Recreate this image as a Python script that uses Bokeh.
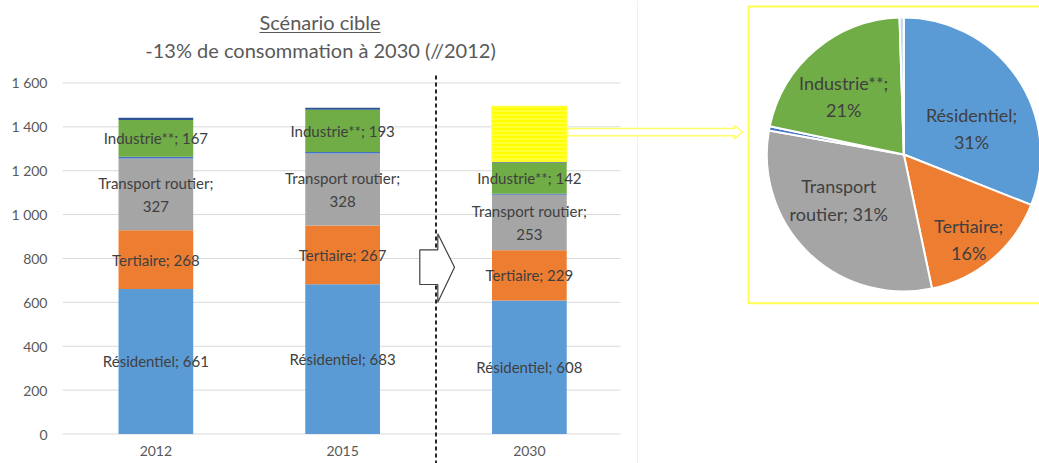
import textwrap
import numpy as np
from bokeh.plotting import figure
from bokeh.layouts import row
from bokeh.models import Range1d, LinearAxis, FixedTicker, ColumnDataSource
from bokeh.core.properties import value
from bokeh.embed import file_html
from bokeh.resources import INLINE

# ---------------- data ----------------
years = ["2012", "2015", "2030"]
sectors = ["Résidentiel", "Tertiaire", "Transport routier", "Agriculture", "Industrie**", "Autres"]
residentiel = [661, 683, 608]
tertiaire = [268, 267, 229]
transport = [327, 328, 253]
agriculture = [8, 7, 5]
industrie = [167, 193, 142]
autres = [10, 9, 6]
effort = [0, 0, 250]          # yellow hatched block on top of 2030
labelled = [True, True, True, False, True, False]

y_ticks = [0, 200, 400, 600, 800, 1000, 1200, 1400, 1600]
y_tick_labels = ["0", "200", "400", "600", "800", "1 000", "1 200", "1 400", "1 600"]

pie_shares = [31.0, 15.7, 31.1, 0.5, 21.2, 0.5]

title_line1 = "Scénario cible"
title_line2 = "-13% de consommation à 2030 (//2012)"

# ---------------- style ----------------
colors = ["#5B9BD5", "#ED7D31", "#A5A5A5", "#4472C4", "#70AD47", "#2F5597"]
pie_colors = ["#5B9BD5", "#ED7D31", "#A5A5A5", "#4472C4", "#70AD47", "#BDD7EE"]
FONT = "Lato"
W1, W2, H = 745, 294, 463
FRAME_L = 62
PX_PER_CAT = 186.75
Y0_PX = 433.5
PX_PER_UNIT = 0.2194

def X(px):
    return (px - FRAME_L) / PX_PER_CAT + 0.5

def Y(py):
    return (Y0_PX - py) / PX_PER_UNIT

x_pos = [1, 2, 3]
series = [residentiel, tertiaire, transport, agriculture, industrie, autres]

p = figure(width=W1, height=H,
           x_range=Range1d(0.5, X(W1)), y_range=Range1d(Y(H), Y(0)),
           output_backend="svg", toolbar_location=None,
           x_axis_type=None, y_axis_type=None,
           min_border_left=FRAME_L, min_border_right=0, min_border_top=0, min_border_bottom=0,
           outline_line_color=None, background_fill_color="white", border_fill_color="white")

# axes
yaxis = LinearAxis(ticker=FixedTicker(ticks=y_ticks),
                   major_label_overrides=dict(zip(y_ticks, y_tick_labels)),
                   axis_line_color=None, major_tick_line_color=None, minor_tick_line_color=None,
                   major_tick_in=0, major_tick_out=0,
                   major_label_text_font=FONT, major_label_text_font_size="14px",
                   major_label_text_color="#595959", major_label_standoff=15)
p.add_layout(yaxis, "left")

xaxis = LinearAxis(fixed_location=0, ticker=FixedTicker(ticks=x_pos),
                   major_label_overrides=dict(zip(x_pos, years)),
                   axis_line_color=None, major_tick_line_color=None, minor_tick_line_color=None,
                   major_tick_in=0, major_tick_out=0,
                   major_label_text_font=FONT, major_label_text_font_size="14px",
                   major_label_text_color="#595959", major_label_standoff=12)
p.add_layout(xaxis, "below")

# gridlines (stop at the chart's right edge)
p.segment(x0=[0.5] * len(y_ticks), x1=[X(620)] * len(y_ticks), y0=y_ticks, y1=y_ticks,
          line_color="#D9D9D9", line_width=1)

# faint chart-object border
p.segment(x0=[X(637)], x1=[X(637)], y0=[Y(0)], y1=[Y(H)], line_color="#F0F0F0", line_width=1)

# stacked bars
src = ColumnDataSource(dict(x=x_pos, **{s: v for s, v in zip(sectors, series)}))
p.vbar_stack(sectors, x="x", width=0.4, color=colors, source=src, line_color=None)

totals = np.sum(np.array(series), axis=0)
eff_idx = [i for i, e in enumerate(effort) if e > 0]
p.vbar(x=[x_pos[i] for i in eff_idx], bottom=[totals[i] for i in eff_idx],
       top=[totals[i] + effort[i] for i in eff_idx], width=0.4,
       fill_color="#FFFF00", line_color="#FFFF33", line_width=1.5,
       hatch_pattern="horizontal_line", hatch_color="white", hatch_alpha=0.45,
       hatch_scale=4, hatch_weight=1)

# data labels
lx, ly, lt = [], [], []
cum = np.zeros(3)
for name, vals, lab in zip(sectors, series, labelled):
    for i, v in enumerate(vals):
        if lab:
            lx.append(x_pos[i])
            ly.append(cum[i] + v / 2)
            lt.append("\n".join(textwrap.wrap(f"{name}; {v}", width=18)))
    cum += np.array(vals)
p.text(x=lx, y=ly, text=lt, text_align="center", text_baseline="middle",
       text_font=value(FONT), text_font_size="15px", text_color="#404040",
       text_line_height=1.3)

# dashed separator
p.segment(x0=[2.5], x1=[2.5], y0=[Y(75)], y1=[Y(H)], line_color="#262626",
          line_width=2, line_dash="4 3")

# white block arrow
ax = [419.3, 437.3, 437.3, 454, 437.3, 437.3, 419.3]
ay = [249.3, 249.3, 233.3, 266.7, 301.7, 284, 284]
p.patch([X(v) for v in ax], [Y(v) for v in ay], fill_color="white",
        line_color="#404040", line_width=1.2)

# yellow pointer arrow
yx = [567, 734, 734, 742, 734, 734, 567]
yy = [128, 128, 125, 131.7, 138.3, 135.3, 135.3]
p.patch([X(v) for v in yx], [Y(v) for v in yy], fill_color="white",
        line_color="#FFFF66", line_width=1.5)

# titles
p.text(x=[X(319.5)], y=[Y(21.5)], text=[title_line1], text_align="center",
       text_baseline="middle", text_font=value(FONT), text_font_size="20px",
       text_color="#595959")
p.segment(x0=[X(259)], x1=[X(380)], y0=[Y(32)], y1=[Y(32)], line_color="#595959", line_width=1.2)
p.text(x=[X(320)], y=[Y(49)], text=[title_line2], text_align="center",
       text_baseline="middle", text_font=value(FONT), text_font_size="20px",
       text_color="#595959")

# ---------------- pie ----------------
p2 = figure(width=W2, height=H, x_range=Range1d(0, W2), y_range=Range1d(0, H),
            output_backend="svg", toolbar_location=None,
            x_axis_type=None, y_axis_type=None,
            min_border_left=0, min_border_right=0, min_border_top=0, min_border_bottom=0,
            outline_line_color=None, background_fill_color="white", border_fill_color="white")

cx, cy, r = 903.3 - W1, H - 154, 137
fr = np.array(pie_shares) / np.sum(pie_shares)
c1 = np.cumsum(fr)
c0 = c1 - fr
starts = np.pi / 2 - 2 * np.pi * c0
ends = np.pi / 2 - 2 * np.pi * c1
p2.wedge(x=cx, y=cy, radius=r, start_angle=starts, end_angle=ends, direction="clock",
         fill_color=pie_colors, line_color="white", line_width=2)

# yellow frame round the pie
p2.quad(left=[3], right=[W2 + 20], top=[H - 6], bottom=[H - 302.7], fill_color=None,
        line_color="#FFFF4D", line_width=2)

# pie labels (angle clockwise from top in degrees, radius fraction)
label_anchor = [(69, 0.53), (142.6, 0.78), (235, 0.58), None, (314, 0.61), None]
px_, py_, pt_ = [], [], []
for name, share, anc in zip(sectors, pie_shares, label_anchor):
    if anc is None:
        continue
    a = np.radians(anc[0])
    px_.append(cx + anc[1] * r * np.sin(a))
    py_.append(cy + anc[1] * r * np.cos(a))
    pt_.append("\n".join(textwrap.wrap(f"{name}; {round(share)}%", width=12)))
p2.text(x=px_, y=py_, text=pt_, text_align="center", text_baseline="middle",
        text_font=value(FONT), text_font_size="18px", text_color="#404040",
        text_line_height=1.25)

layout = row(p, p2, spacing=0)
open("out.html", "w").write(file_html(layout, INLINE))
